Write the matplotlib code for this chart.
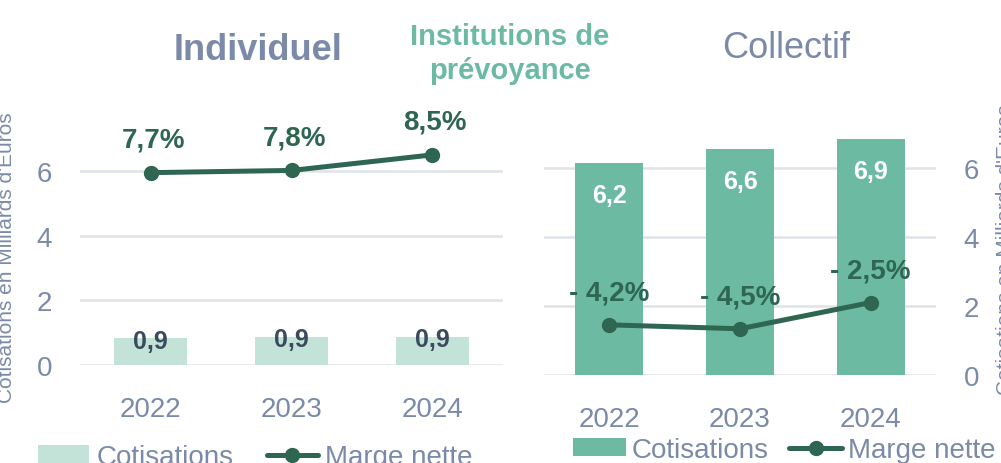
import matplotlib
matplotlib.use("Agg")
import matplotlib.pyplot as plt
import numpy as np

plt.rcParams['font.family'] = ['Liberation Sans', 'DejaVu Sans']

years = ["2022", "2023", "2024"]
ind_cotis = [0.82, 0.88, 0.88]
ind_cotis_labels = ["0,9", "0,9", "0,9"]
ind_marge = [7.7, 7.8, 8.5]
ind_marge_labels = ["7,7%", "7,8%", "8,5%"]
col_cotis = [6.15, 6.55, 6.85]
col_cotis_labels = ["6,2", "6,6", "6,9"]
col_marge = [-4.2, -4.5, -2.5]
col_marge_labels = ["- 4,2%", "- 4,5%", "- 2,5%"]
yticks = [0, 2, 4, 6]

C_LIGHT = "#c3e3d8"
C_MID = "#6cbaa2"
C_LINE = "#2e6652"
C_TXT = "#7a8aa8"
C_GRID = "#dfe3e8"
C_DARK = "#3b4a5e"

W, H = 1001, 464
fig = plt.figure(figsize=(W / 100, H / 100), dpi=100)

def fbox(x0, ytop, x1, ybot):
    return [x0 / W, 1 - ybot / H, (x1 - x0) / W, (ybot - ytop) / H]

YMAX = 7.5
# left axes: 0 at y=366, 6 at y=172
axL = fig.add_axes(fbox(80, 366 - 32.33 * YMAX, 503, 366))
# right axes: 0 at y=376, 6 at y=169
axR = fig.add_axes(fbox(544, 376 - 34.5 * YMAX, 936, 376))

x = np.arange(len(years))

def style(ax):
    ax.set_xlim(-0.5, 2.5)
    ax.set_ylim(0, YMAX)
    ax.set_yticks(yticks)
    ax.set_xticks(x)
    ax.set_xticklabels(years)
    ax.grid(axis='y', color=C_GRID, linewidth=1.8, zorder=0)
    ax.set_axisbelow(True)
    for s in ax.spines.values():
        s.set_visible(False)
    ax.tick_params(axis='both', length=0, colors=C_TXT, labelsize=20)
    ax.tick_params(axis='x', pad=22)
    ax.tick_params(axis='y', pad=20)

style(axL)
style(axR)

barsL = axL.bar(x, ind_cotis, width=0.52, color=C_LIGHT, zorder=2, label="Cotisations")
barsR = axR.bar(x, col_cotis, width=0.52, color=C_MID, zorder=2, label="Cotisations")

for xi, v, lab in zip(x, ind_cotis, ind_cotis_labels):
    axL.annotate(lab, (xi, v), xytext=(0, -2), textcoords='offset points',
                 ha='center', va='center', fontsize=18, fontweight='bold', color=C_DARK, zorder=5)
for xi, v, lab in zip(x, col_cotis, col_cotis_labels):
    axR.annotate(lab, (xi, v), xytext=(0, -23), textcoords='offset points',
                 ha='center', va='center', fontsize=18, fontweight='bold', color='white', zorder=5)

# twin axes for the margin lines
a_l, b_l = 0.6875, 0.656
tL = axL.twinx()
tL.set_ylim((0 - b_l) / a_l, (YMAX - b_l) / a_l)
a_r, b_r = 0.38, 3.05
tR = axR.twinx()
tR.set_ylim((0 - b_r) / a_r, (YMAX - b_r) / a_r)
for t in (tL, tR):
    t.set_xlim(-0.5, 2.5)
    t.set_yticks([])
    for s in t.spines.values():
        s.set_visible(False)

# right panel ticks on the right (after twinx, which resets them)
axR.yaxis.tick_right()
axR.tick_params(axis='y', length=0, colors=C_TXT, labelsize=20, pad=20,
                left=False, labelleft=False, right=False, labelright=True)

lineL, = tL.plot(x, ind_marge, color=C_LINE, linewidth=3.6, marker='o', markersize=10,
                 solid_capstyle='round', label="Marge nette")
lineR, = tR.plot(x, col_marge, color=C_LINE, linewidth=3.6, marker='o', markersize=10,
                 solid_capstyle='round', label="Marge nette")

for xi, v, lab in zip(x, ind_marge, ind_marge_labels):
    tL.annotate(lab, (xi, v), xytext=(2, 24), textcoords='offset points',
                ha='center', va='center', fontsize=20, fontweight='bold', color=C_LINE)
for xi, v, lab in zip(x, col_marge, col_marge_labels):
    tR.annotate(lab, (xi, v), xytext=(0, 23), textcoords='offset points',
                ha='center', va='center', fontsize=20, fontweight='bold', color=C_LINE)

# titles
fig.text(258 / W, 1 - 50 / H, "Individuel", ha='center', va='center', fontsize=26,
         fontweight='bold', color=C_TXT)
fig.text(786 / W, 1 - 48 / H, "Collectif", ha='center', va='center', fontsize=26, color=C_TXT)
fig.text(510 / W, 1 - 54 / H, "Institutions de\nprévoyance", ha='center', va='center',
         fontsize=21, fontweight='bold', color=C_MID, linespacing=1.3)

# y labels
fig.text(7 / W, 1 - 258 / H, "Cotisations en Milliards d'Euros", rotation=90, ha='center',
         va='center', fontsize=15, color=C_TXT)
fig.text(1005 / W, 1 - 250 / H, "Cotisations en Milliards d'Euros", rotation=90, ha='center',
         va='center', fontsize=15, color=C_TXT)

# legends
legL = fig.legend(handles=[barsL, lineL], labels=["Cotisations", "Marge nette"],
                  loc='center left', bbox_to_anchor=(38 / W, 1 - 458 / H), ncol=2, frameon=False,
                  fontsize=20, labelcolor=C_TXT, handlelength=1.85, handleheight=0.6,
                  handletextpad=0.25, columnspacing=1.2, borderaxespad=0, borderpad=0)
legR = fig.legend(handles=[barsR, lineR], labels=["Cotisations", "Marge nette"],
                  loc='center left', bbox_to_anchor=(573 / W, 1 - 451 / H), ncol=2, frameon=False,
                  fontsize=20, labelcolor=C_TXT, handlelength=1.9, handleheight=0.6,
                  handletextpad=0.2, columnspacing=0.75, borderaxespad=0, borderpad=0)

fig.savefig("out.png", dpi=100)
